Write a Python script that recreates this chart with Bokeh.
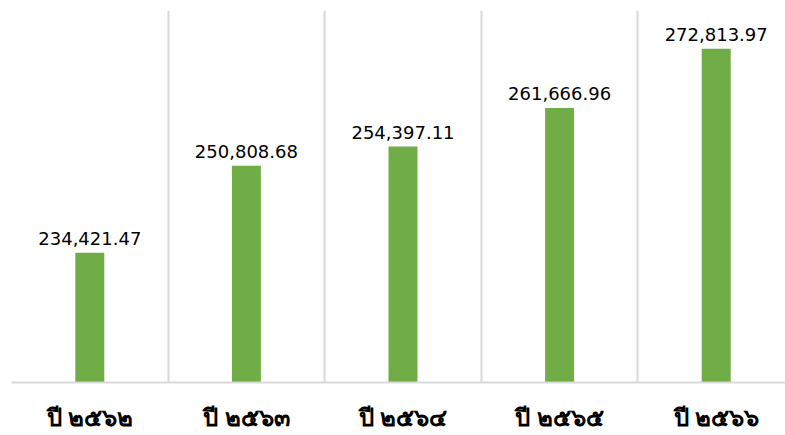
from bokeh.plotting import figure
from bokeh.models import Range1d, FixedTicker, ColumnDataSource
from bokeh.embed import file_html
from bokeh.resources import INLINE

categories = ["ปี ๒๕๖๒", "ปี ๒๕๖๓", "ปี ๒๕๖๔", "ปี ๒๕๖๕", "ปี ๒๕๖๖"]
values = [234421.47, 250808.68, 254397.11, 261666.96, 272813.97]
value_labels = ["234,421.47", "250,808.68", "254,397.11", "261,666.96", "272,813.97"]
y_min, y_max = 210000, 280000

xs = [i + 0.5 for i in range(len(categories))]
src = ColumnDataSource(dict(x=xs, top=values, lab=value_labels))

p = figure(width=785, height=435, output_backend="svg", toolbar_location=None,
           x_range=Range1d(0, 774 / 156.6), y_range=Range1d(y_min, y_max),
           min_border_left=11, min_border_right=0, min_border_top=10, min_border_bottom=53)
p.outline_line_color = None
p.background_fill_color = "white"

p.vbar(x="x", top="top", bottom=y_min, width=0.185, source=src,
       fill_color="#70AD47", line_color=None)

p.text(x="x", y="top", text="lab", source=src, text_align="center",
       text_baseline="alphabetic", y_offset=-14,
       text_font_size="18px", text_font={"value": "DejaVu Sans"}, text_color="#000000")

p.yaxis.visible = False
p.ygrid.grid_line_color = None

p.xgrid.ticker = FixedTicker(ticks=list(range(len(categories))))
p.xgrid.grid_line_color = "#d9d9d9"
p.xgrid.grid_line_width = 2

ax = p.xaxis[0]
ax.ticker = FixedTicker(ticks=xs)
ax.major_label_overrides = {x: c for x, c in zip(xs, categories)}
ax.axis_line_color = "#d9d9d9"
ax.axis_line_width = 2
ax.major_tick_line_color = None
ax.minor_tick_line_color = None
ax.major_tick_out = 0
ax.major_tick_in = 0
ax.major_label_text_font = "Noto Sans"
ax.major_label_text_font_style = "bold"
ax.major_label_text_font_size = "24px"
ax.major_label_text_color = "#000000"
ax.major_label_standoff = 17

open("out.html", "w").write(file_html(p, INLINE))
